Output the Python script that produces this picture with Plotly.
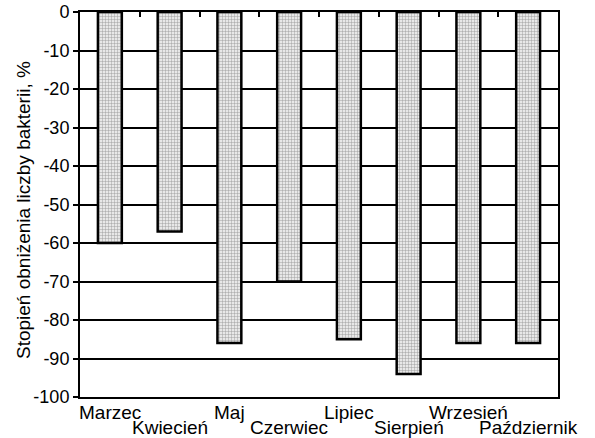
import plotly.graph_objects as go

categories = ["Marzec", "Kwiecień", "Maj", "Czerwiec", "Lipiec", "Sierpień", "Wrzesień", "Październik"]
values = [-60, -57, -86, -70, -85, -94, -86, -86]
y_ticks = [0, -10, -20, -30, -40, -50, -60, -70, -80, -90, -100]
y_tick_text = [str(v) for v in y_ticks]
y_title = "Stopień obniżenia liczby bakterii, %"

FONT = "Liberation Sans, Arial"
n = len(categories)
x_range = [-0.5, n - 0.5]

fig = go.Figure()
fig.add_trace(go.Bar(
    x=categories, y=values, width=0.4,
    marker=dict(color="#d0d0d0", line=dict(color="black", width=2.5),
                pattern=dict(shape="+", fgcolor="#555555", bgcolor="#e8e8e8", size=3, solidity=0.3)),
    hoverinfo="skip",
))

# staggered category labels
for i, c in enumerate(categories):
    fig.add_annotation(x=c, xref="x", yref="paper", y=(-0.039 if i % 2 == 0 else -0.078),
                       yanchor="middle", xanchor="center", text=c, showarrow=False,
                       font=dict(family=FONT, size=19, color="black"))

# y-axis title
fig.add_annotation(x=0, y=0.5, xref="paper", yref="paper", xanchor="right", yanchor="middle",
                   xshift=-44, yshift=-5, textangle=-90, text=y_title, showarrow=False,
                   font=dict(family=FONT, size=19, color="black"))

fig.update_layout(
    width=595, height=438,
    margin=dict(l=80, r=37, t=12, b=41, autoexpand=False),
    paper_bgcolor="white", plot_bgcolor="white",
    font=dict(family=FONT, size=18, color="black"),
    showlegend=False,
    xaxis=dict(
        side="top", range=x_range, tickmode="array", tickvals=categories, showticklabels=False,
        showline=True, linecolor="black", linewidth=2, mirror=True,
        ticks="inside", tickson="boundaries", ticklen=5, tickwidth=2, tickcolor="black",
        showgrid=False, automargin=False,
    ),
    yaxis=dict(
        range=[-100, 0], tickvals=y_ticks, ticktext=y_tick_text,
        showline=True, linecolor="black", linewidth=2, mirror=True,
        ticks="outside", ticklen=5, tickwidth=2, tickcolor="black",
        showgrid=True, gridcolor="black", gridwidth=1.5,
        zeroline=False, automargin=False,
    ),
)
fig.write_html("out.html", config={"displayModeBar": False},
               post_script="document.body.style.margin='0px';document.body.style.overflow='hidden';")
